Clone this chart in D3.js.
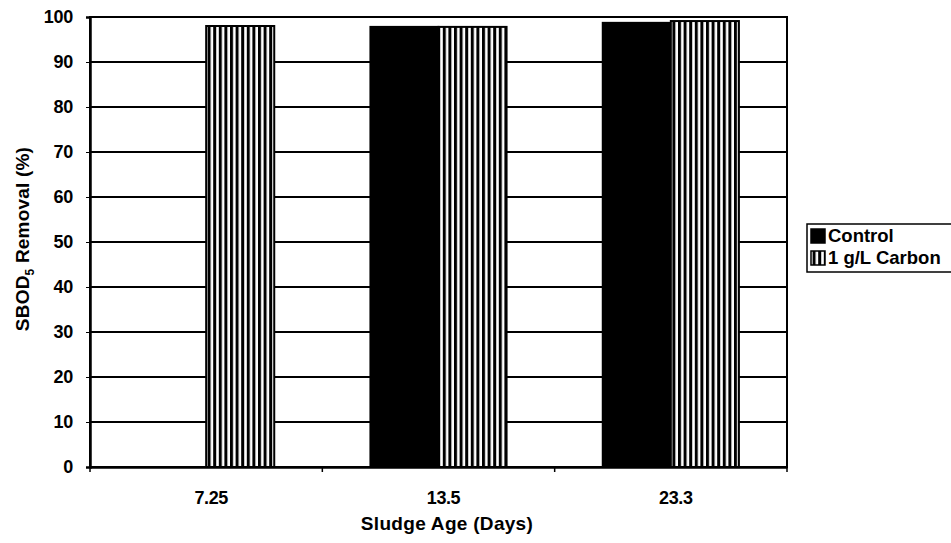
<!DOCTYPE html>
<meta charset="utf-8">
<style>
body { margin: 0; background: #fff; }
svg text { font-family: "Liberation Sans", Arial, sans-serif; font-weight: bold; fill: #000; }
</style>
<script src="https://cdn.jsdelivr.net/npm/d3@7"></script>
<body></body>
<script>

var width = 951;
var height = 543;
var margin = { top: 17, right: 164, bottom: 76, left: 90 };

// data
var categories = ['7.25', '13.5', '23.3'];
var seriesNames = ['Control', '1 g/L Carbon'];
var control = [null, 97.8, 98.7];
var carbon = [98.0, 97.8, 99.1];
var yTicks = [0, 10, 20, 30, 40, 50, 60, 70, 80, 90, 100];

var svg = d3.select('body').append('svg')
	.attr('width', width)
	.attr('height', height);

// striped fill for the carbon series
var pat = svg.append('defs').append('pattern')
	.attr('id', 'stripes')
	.attr('patternUnits', 'userSpaceOnUse')
	.attr('width', 5.6)
	.attr('height', 10);
pat.append('rect').attr('width', 5.6).attr('height', 10).attr('fill', '#fff');
pat.append('rect').attr('width', 3).attr('height', 10).attr('fill', '#000');

var plotW = width - margin.left - margin.right;
var plotH = height - margin.top - margin.bottom;

var g = svg.append('g')
	.attr('transform', 'translate(' + margin.left + ',' + margin.top + ')');

var x = d3.scaleBand()
	.domain(categories)
	.range([0, plotW])
	.paddingInner(0)
	.paddingOuter(0);

var inner = d3.scaleBand()
	.domain(seriesNames)
	.range([x.bandwidth() * 0.207, x.bandwidth() * 0.793]);

var y = d3.scaleLinear()
	.domain([0, 100])
	.range([plotH, 0]);

//gridlines
g.selectAll('.grid')
	.data(yTicks.filter(d => d > 0 && d < 100))
	.enter().append('line')
	.attr('x1', 0)
	.attr('x2', plotW)
	.attr('y1', d => y(d))
	.attr('y2', d => y(d))
	.attr('stroke', '#000')
	.attr('stroke-width', 1.8);

//bars
var rows = [];
categories.forEach((c, i) => {
	rows.push({ cat: c, s: seriesNames[0], v: control[i] });
	rows.push({ cat: c, s: seriesNames[1], v: carbon[i] });
});

g.selectAll('.bar')
	.data(rows.filter(d => d.v != null))
	.enter().append('rect')
	.attr('x', d => x(d.cat) + inner(d.s))
	.attr('y', d => y(d.v))
	.attr('width', inner.bandwidth())
	.attr('height', d => plotH - y(d.v))
	.attr('fill', d => d.s === seriesNames[0] ? '#000' : 'url(#stripes)')
	.attr('stroke', '#000')
	.attr('stroke-width', 2);

//plot border
g.append('rect')
	.attr('width', plotW)
	.attr('height', plotH)
	.attr('fill', 'none')
	.attr('stroke', '#000')
	.attr('stroke-width', 2);

//y axis
var yAxis = g.append('g')
	.call(d3.axisLeft(y).tickValues(yTicks).tickSize(4).tickPadding(13));
yAxis.select('.domain').attr('stroke-width', 2.5);
yAxis.selectAll('text').style('font-size', '18px').attr('letter-spacing', '-0.3');

//x axis: ticks at category boundaries
var xAxis = g.append('g')
	.attr('transform', 'translate(0,' + plotH + ')')
	.call(d3.axisBottom(x).tickSize(0).tickPadding(24));
xAxis.select('.domain').attr('stroke-width', 2.5);
xAxis.selectAll('text').style('font-size', '18px').attr('letter-spacing', '-0.4')
	.attr('dx', 5);

g.selectAll('.xtick')
	.data(categories)
	.enter().append('line')
	.attr('x1', d => x(d))
	.attr('x2', d => x(d))
	.attr('y1', plotH)
	.attr('y2', plotH + 5)
	.attr('stroke', '#000')
	.attr('stroke-width', 1.5);
g.append('line')
	.attr('x1', plotW).attr('x2', plotW)
	.attr('y1', plotH).attr('y2', plotH + 5)
	.attr('stroke', '#000').attr('stroke-width', 1.5);

//axis titles
svg.append('text')
	.attr('x', 447)
	.attr('y', 530)
	.attr('text-anchor', 'middle')
	.style('font-size', '19px')
	.attr('letter-spacing', '0.3')
	.text('Sludge Age (Days)');

var yt = svg.append('text')
	.attr('transform', 'translate(29,239) rotate(-90)')
	.attr('text-anchor', 'middle')
	.style('font-size', '19px')
	.attr('letter-spacing', '0.2');
yt.append('tspan').text('SBOD');
yt.append('tspan').attr('dy', 5).style('font-size', '12px').text('5');
yt.append('tspan').attr('dy', -5).text(' Removal (%)');

//legend
var leg = svg.append('g').attr('transform', 'translate(807,224)');
leg.append('rect')
	.attr('width', 160)
	.attr('height', 48)
	.attr('fill', '#fff')
	.attr('stroke', '#000')
	.attr('stroke-width', 1.5);
seriesNames.forEach((s, i) => {
	leg.append('rect')
		.attr('x', 4)
		.attr('y', 5 + i * 22)
		.attr('width', 14)
		.attr('height', 14)
		.attr('fill', i === 0 ? '#000' : 'url(#stripes)')
		.attr('stroke', '#000')
		.attr('stroke-width', 1.5);
	leg.append('text')
		.attr('x', 21)
		.attr('y', 18 + i * 22)
		.style('font-size', '18.5px')
		.text(s);
});

</script>
